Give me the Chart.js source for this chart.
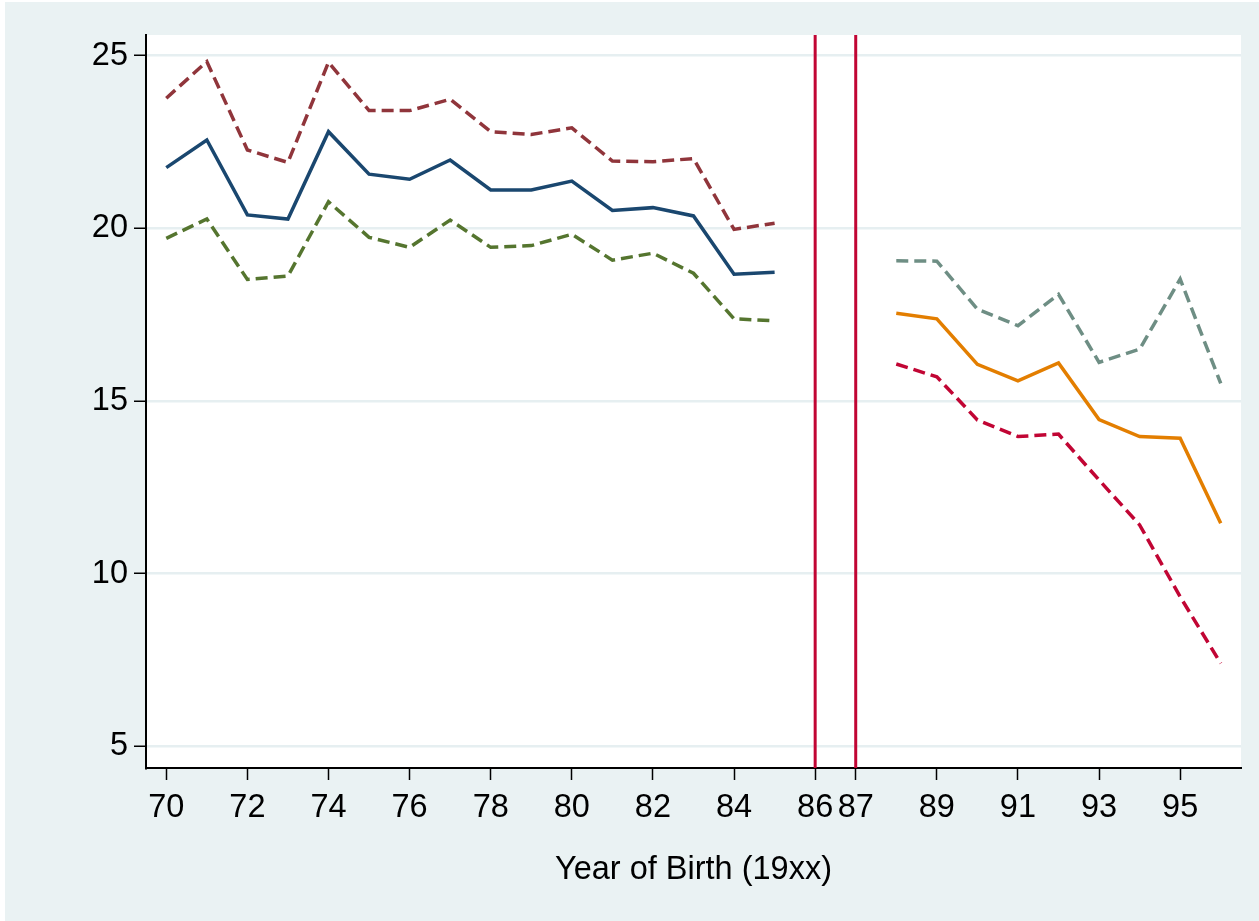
<!DOCTYPE html>
<html>
<head>
<meta charset="utf-8">
<script src="https://cdn.jsdelivr.net/npm/chart.js@4"></script>
<style>
  html, body { margin: 0; padding: 0; background: #ffffff; }
  #wrap { width: 1259px; height: 921px; }
</style>
</head>
<body>
<div id="wrap"><canvas id="cohort-chart" width="1259" height="921"></canvas></div>
<script>
// birth cohorts before the break
const earlyYears = [70, 71, 72, 73, 74, 75, 76, 77, 78, 79, 80, 81, 82, 83, 84, 85];
const estEarly   = [21.76, 22.56, 20.39, 20.27, 22.80, 21.57, 21.42, 21.98, 21.11, 21.11, 21.37, 20.52, 20.60, 20.36, 18.67, 18.73];
const upperEarly = [23.77, 24.83, 22.27, 21.91, 24.81, 23.41, 23.41, 23.74, 22.80, 22.72, 22.91, 21.95, 21.93, 22.02, 19.97, 20.15];
const lowerEarly = [19.71, 20.27, 18.52, 18.62, 20.77, 19.74, 19.45, 20.24, 19.45, 19.50, 19.83, 19.08, 19.28, 18.70, 17.38, 17.32];

// birth cohorts after the break
const lateYears = [88, 89, 90, 91, 92, 93, 94, 95, 96];
const estLate   = [17.54, 17.38, 16.06, 15.58, 16.10, 14.46, 13.97, 13.92, 11.46];
const upperLate = [19.06, 19.05, 17.66, 17.18, 18.09, 16.12, 16.50, 18.53, 15.51];
const lowerLate = [16.07, 15.70, 14.45, 13.97, 14.04, 12.71, 11.41, 9.33, 7.40];

const xTicks = [70, 72, 74, 76, 78, 80, 82, 84, 86, 87, 89, 91, 93, 95];
const yTicks = [5, 10, 15, 20, 25];
const cutoffYears = [86, 87];

const FONT = "'Liberation Sans', Arial, Helvetica, sans-serif";

function pairs(xs, ys) {
    return xs.map((x, i) => ({ x: x, y: ys[i] }));
}

function series(xs, ys, color, dashed) {
    return {
        data: pairs(xs, ys),
        borderColor: color,
        backgroundColor: color,
        borderWidth: 3.5,
        borderDash: dashed ? [12, 6] : [],
        pointRadius: 0,
        tension: 0,
        fill: false
    };
}

// grey panel behind everything, white plot region
const panelPlugin = {
    id: 'panel',
    beforeDraw(chart) {
        const ctx = chart.ctx;
        const a = chart.chartArea;
        ctx.save();
        ctx.fillStyle = '#ffffff';
        ctx.fillRect(0, 0, chart.width, chart.height);
        ctx.fillStyle = '#eaf2f3';
        ctx.fillRect(5, 2, chart.width - 5, chart.height - 2);
        ctx.fillStyle = '#ffffff';
        ctx.fillRect(a.left, a.top, a.right - a.left, a.bottom - a.top);
        ctx.restore();
    }
};

// vertical lines marking the cutoff cohorts
const cutoffPlugin = {
    id: 'cutoffs',
    afterDatasetsDraw(chart) {
        const ctx = chart.ctx;
        const a = chart.chartArea;
        const xs = chart.scales.x;
        ctx.save();
        ctx.strokeStyle = '#c10534';
        ctx.lineWidth = 3;
        cutoffYears.forEach(yr => {
            const px = xs.getPixelForValue(yr);
            ctx.beginPath();
            ctx.moveTo(px, a.top);
            ctx.lineTo(px, a.bottom);
            ctx.stroke();
        });
        ctx.restore();
    }
};

const ctx = document.getElementById('cohort-chart').getContext('2d');

new Chart(ctx, {
    type: 'line',
    data: {
        datasets: [
            series(earlyYears, estEarly, '#1a476f', false),
            series(earlyYears, upperEarly, '#90353b', true),
            series(earlyYears, lowerEarly, '#55752f', true),
            series(lateYears, estLate, '#e37e00', false),
            series(lateYears, upperLate, '#6e8e84', true),
            series(lateYears, lowerLate, '#c10534', true)
        ]
    },
    options: {
        responsive: false,
        animation: false,
        layout: { padding: { top: 35, right: 18, bottom: 0, left: 0 } },
        plugins: {
            legend: { display: false },
            tooltip: { enabled: false }
        },
        scales: {
            x: {
                type: 'linear',
                min: 69.5,
                max: 96.5,
                afterBuildTicks: (scale) => { scale.ticks = xTicks.map(v => ({ value: v })); },
                afterFit: (scale) => { scale.height = 153; },
                grid: {
                    display: true,
                    drawOnChartArea: false,
                    drawTicks: true,
                    tickLength: 12,
                    tickColor: '#000000',
                    tickWidth: 1.5
                },
                border: { display: true, color: '#000000', width: 2 },
                ticks: {
                    autoSkip: false,
                    maxRotation: 0,
                    padding: 9,
                    color: '#000000',
                    font: { family: FONT, size: 32.5 }
                },
                title: {
                    display: true,
                    text: 'Year of Birth (19xx)',
                    color: '#000000',
                    font: { family: FONT, size: 32.5 },
                    padding: { top: 0, bottom: 31 }
                }
            },
            y: {
                min: 4.37,
                max: 25.6,
                afterBuildTicks: (scale) => { scale.ticks = yTicks.map(v => ({ value: v })); },
                afterFit: (scale) => { scale.width = 146; },
                grid: {
                    color: '#e6eff1',
                    lineWidth: 2.5,
                    drawTicks: true,
                    tickLength: 12,
                    tickColor: '#000000',
                    tickWidth: 1.5
                },
                border: { display: true, color: '#000000', width: 2 },
                ticks: {
                    padding: 6,
                    color: '#000000',
                    font: { family: FONT, size: 32.5 }
                }
            }
        }
    },
    plugins: [panelPlugin, cutoffPlugin]
});
</script>
</body>
</html>
